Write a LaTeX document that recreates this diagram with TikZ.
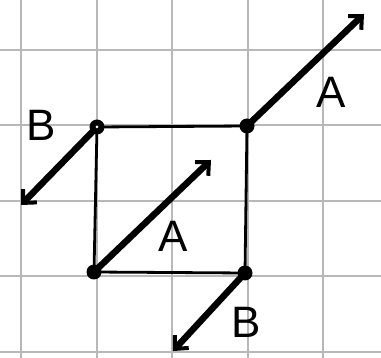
\documentclass[tikz,border=0pt]{standalone}
\usepackage{fontspec}
\setmainfont{Liberation Sans}
\usetikzlibrary{arrows.meta}
\begin{document}
\begin{tikzpicture}[x=1pt,y=-1pt,
  gridline/.style={draw=black!28,line width=1.3pt},
  edge/.style={line width=2.8pt,line cap=round},
  vec/.style={line width=6.5pt,line cap=round,-{Straight Barb[length=10pt,width=19pt,line width=4pt]}},
  lbl/.style={font=\fontsize{44}{44}\selectfont,inner sep=0pt},
  dotfill/.style={fill=black,circle,inner sep=0pt,minimum size=15pt}]
\useasboundingbox (0,0) rectangle (381,358);
\fill[white] (0,0) rectangle (381,358);
% grid
\foreach \gx in {21,97,172,248,323} \draw[gridline] (\gx,0) -- (\gx,358);
\foreach \gy in {50,125,201,276,352} \draw[gridline] (0,\gy) -- (381,\gy);
% corners
\coordinate (tl) at (97,127);
\coordinate (tr) at (247,126);
\coordinate (bl) at (94,272);
\coordinate (br) at (245,273);
% arrow ends
\coordinate (atop) at (364,14);
\coordinate (amid) at (211,160);
\coordinate (bleft) at (21,205);
\coordinate (bbot) at (173,351);
% square
\draw[edge] (tl) -- (tr) -- (br) -- (bl) -- cycle;
% vectors
\draw[vec] (tr) -- (atop);
\draw[vec] (bl) -- (amid);
\draw[vec] (tl) -- (bleft);
\draw[vec] (br) -- (bbot);
% dots
\node[dotfill] (dtl) at (tl) {};
\node[fill=white,circle,inner sep=0pt,minimum size=3pt] (dtlc) at (tl) {};
\node[dotfill] (dtr) at (tr) {};
\node[dotfill] (dbl) at (bl) {};
\node[dotfill] (dbr) at (br) {};
% labels
\node[lbl] (la1) at (331,92) {A};
\node[lbl] (la2) at (173,236) {A};
\node[lbl] (lb1) at (41,125) {B};
\node[lbl] (lb2) at (246,322) {B};
\end{tikzpicture}
\end{document}
